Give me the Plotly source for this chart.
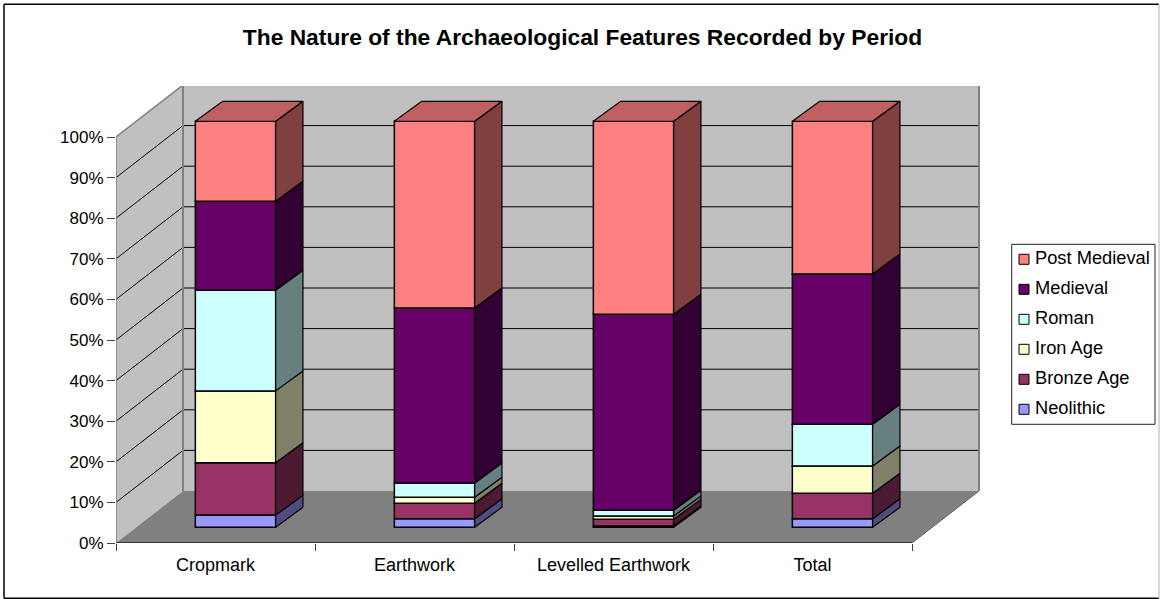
import plotly.graph_objects as go

# ---- data (percent of each category) ----
categories = ["Cropmark", "Earthwork", "Levelled Earthwork", "Total"]
neolithic = [3.0, 2.1, 0.3, 2.1]
bronze_age = [12.9, 3.8, 1.7, 6.3]
iron_age = [17.7, 1.5, 0.8, 6.7]
roman = [24.8, 3.5, 1.4, 10.3]
medieval = [21.9, 43.1, 48.3, 37.0]
post_medieval = [19.7, 46.0, 47.5, 37.6]
series_names = ["Neolithic", "Bronze Age", "Iron Age", "Roman", "Medieval", "Post Medieval"]
series_values = [neolithic, bronze_age, iron_age, roman, medieval, post_medieval]
y_ticks = [0, 10, 20, 30, 40, 50, 60, 70, 80, 90, 100]
title_text = "The Nature of the Archaeological Features Recorded by Period"

# ---- style ----
front = ["#9999FF", "#993366", "#FFFFCC", "#CCFFFF", "#660066", "#FF8080"]
side = ["#4D4D80", "#4D1A33", "#808066", "#668080", "#330033", "#804040"]
top_face = "#C06060"
FONT = "Liberation Sans"

W, H = 1160, 599
L, R, T, B = 116, 980, 85.7, 542.7   # pixel box of the 3-D plot
PR = 1160                            # right edge of Plotly's plot area (legend axes live at the far right)
PX_X = 199.0           # pixels per category
PX_Y = 4.06            # pixels per percent
WALL_DX, WALL_DY = 67 / PX_X, 52 / PX_Y
BAR_OX, BAR_OY = 20 / PX_X, 15.7 / PX_Y   # bar front face offset from front plane
BAR_DX, BAR_DY = 27.3 / PX_X, 20 / PX_Y   # bar depth
BAR_W = 80.3 / PX_X
N = len(categories)
LEG_X0, LEG_X1, LEG_Y0, LEG_Y1 = 1011.7, 1155, 244, 424

def px(x):
    return (x - L) / (PR - L)

def py(y):
    return (B - y) / (B - T)

def line(x0, y0, x1, y1, color, width):
    return dict(type="line", xref="x", yref="y", x0=x0, y0=y0, x1=x1, y1=y1,
                layer="below", line=dict(color=color, width=width))

def paper_line(x0, y0, x1, y1, color, width):
    return dict(type="line", xref="paper", yref="paper", x0=px(x0), y0=py(y0), x1=px(x1), y1=py(y1),
                layer="below", line=dict(color=color, width=width))

def poly(pts, fill):
    d = "M" + " L".join(f"{x},{y}" for x, y in pts) + " Z"
    return dict(type="path", xref="x", yref="y", path=d, layer="below",
                fillcolor=fill, line=dict(width=0))

shapes = [
    poly([(WALL_DX, WALL_DY), (N + WALL_DX, WALL_DY), (N + WALL_DX, 100 + WALL_DY), (WALL_DX, 100 + WALL_DY)], "#C0C0C0"),
    poly([(0, 0), (WALL_DX, WALL_DY), (WALL_DX, 100 + WALL_DY), (0, 100)], "#C0C0C0"),
    poly([(0, 0), (N, 0), (N + WALL_DX, WALL_DY), (WALL_DX, WALL_DY)], "#808080"),
]
for v in y_ticks[1:-1]:
    shapes.append(line(0, v, WALL_DX, v + WALL_DY, "#000000", 1))
    shapes.append(line(WALL_DX, v + WALL_DY, N + WALL_DX, v + WALL_DY, "#000000", 1))
shapes += [
    line(0, 100, WALL_DX, 100 + WALL_DY, "#808080", 1.5),
    line(WALL_DX, 100 + WALL_DY, N + WALL_DX, 100 + WALL_DY, "#808080", 2),
    line(WALL_DX, WALL_DY, WALL_DX, 100 + WALL_DY, "#808080", 2),
    line(N + WALL_DX, WALL_DY, N + WALL_DX, 100 + WALL_DY, "#808080", 2),
    line(N, 0, N + WALL_DX, WALL_DY, "#606060", 1),
    line(0, 0, 0, 100, "#808080", 1.5),
    line(0, 0, N, 0, "#202020", 1.5),
]
# chart-area frame
shapes += [
    paper_line(4, 4, 1159, 4, "#000000", 1.5),
    paper_line(4, 4, 4, 598, "#000000", 1.5),
    paper_line(4, 598, 1159, 598, "#000000", 1.5),
    paper_line(1159, 4, 1159, 598, "#C8C8C8", 1.5),
]
# legend frame
shapes.append(dict(type="rect", xref="paper", yref="paper",
                   x0=px(LEG_X0), x1=px(LEG_X1), y0=py(LEG_Y1), y1=py(LEG_Y0),
                   layer="below", line=dict(color="#202020", width=1), fillcolor="#FFFFFF"))

fig = go.Figure()
cum = [0.0] * N
side_traces = []
for s, vals in enumerate(series_values):
    bases = [BAR_OY + c for c in cum]
    fig.add_trace(go.Bar(
        x=[i + 0.5 + BAR_OX for i in range(N)], y=vals, base=bases, width=BAR_W,
        name=series_names[s], marker=dict(color=front[s], line=dict(color="#000000", width=1.5)),
        showlegend=False, customdata=categories,
        hovertemplate="%{customdata}<br>" + series_names[s] + ": %{y}%<extra></extra>",
    ))
    xs, ys = [], []
    for i in range(N):
        xr = i + 0.5 + BAR_OX + BAR_W / 2
        y0, y1 = bases[i], bases[i] + vals[i]
        xs += [xr, xr + BAR_DX, xr + BAR_DX, xr, xr, None]
        ys += [y0, y0 + BAR_DY, y1 + BAR_DY, y1, y0, None]
    side_traces.append(go.Scatter(x=xs, y=ys, mode="lines", fill="toself", fillcolor=side[s],
                                  line=dict(color="#000000", width=1.2), showlegend=False, hoverinfo="skip"))
    cum = [c + v for c, v in zip(cum, vals)]
for t in side_traces:
    fig.add_trace(t)

# top faces of the stacks
xs, ys = [], []
for i in range(N):
    xl = i + 0.5 + BAR_OX - BAR_W / 2
    xr = xl + BAR_W
    yt = BAR_OY + cum[i]
    xs += [xl, xr, xr + BAR_DX, xl + BAR_DX, xl, None]
    ys += [yt, yt, yt + BAR_DY, yt + BAR_DY, yt, None]
fig.add_trace(go.Scatter(x=xs, y=ys, mode="lines", fill="toself", fillcolor=top_face,
                         line=dict(color="#000000", width=1.2), showlegend=False, hoverinfo="skip"))

# legend, drawn on its own small axes so that it can sit in the reference's box
for s in range(len(series_names)):
    fig.add_trace(go.Scatter(
        x=[0], y=[s], xaxis="x2", yaxis="y2", mode="markers",
        marker=dict(symbol="square", size=10, color=front[s], line=dict(color="#000000", width=1)),
        showlegend=False, hoverinfo="skip", cliponaxis=False,
    ))
fig.add_trace(go.Scatter(
    x=[11] * len(series_names), y=list(range(len(series_names))), xaxis="x2", yaxis="y2", mode="text",
    text=series_names, textposition="middle right",
    textfont=dict(family=FONT, size=18.3, color="#000000"),
    showlegend=False, hoverinfo="skip", cliponaxis=False,
))

fig.update_layout(
    width=W, height=H, autosize=False,
    margin=dict(l=L, r=W - PR, t=T, b=H - B, pad=0),
    paper_bgcolor="#FFFFFF", plot_bgcolor="rgba(0,0,0,0)",
    barmode="overlay", showlegend=False, shapes=shapes,
    font=dict(family=FONT, size=17, color="#000000"),
    title=dict(text=f"<b>{title_text}</b>", x=582.5 / W, y=1 - 37 / H, xanchor="center", yanchor="middle",
               xref="container", yref="container", font=dict(family=FONT, size=22.8, color="#000000")),
    xaxis=dict(domain=[0, px(R)], range=[0, (R - L) / PX_X], tickmode="array", tickvals=[i + 0.5 for i in range(N)],
               ticktext=categories, ticks="", showgrid=False, zeroline=False, showline=False,
               tickfont=dict(family=FONT, size=18, color="#000000"),
               minor=dict(tickmode="array", tickvals=list(range(N + 1)), ticks="outside", ticklen=7, tickcolor="#404040", tickwidth=1),
               ticklabelstandoff=9, fixedrange=True),
    yaxis=dict(domain=[0, 1], range=[0, (B - T) / PX_Y], tickmode="array", tickvals=y_ticks,
               ticktext=[f"{v}%" for v in y_ticks], ticks="outside", ticklen=8, tickcolor="#404040", tickwidth=1,
               showgrid=False, zeroline=False, showline=False, fixedrange=True),
    xaxis2=dict(anchor="y2", domain=[px(LEG_X0), px(LEG_X1)], range=[-12.3, LEG_X1 - LEG_X0 - 12.3], visible=False, fixedrange=True),
    yaxis2=dict(anchor="x2", domain=[py(LEG_Y1), py(LEG_Y0)], range=[-0.5, 5.5], visible=False, fixedrange=True),
)
fig.write_html("out.html", config={"displayModeBar": False},
               post_script="document.body.style.margin='0';document.body.style.overflow='hidden';")
